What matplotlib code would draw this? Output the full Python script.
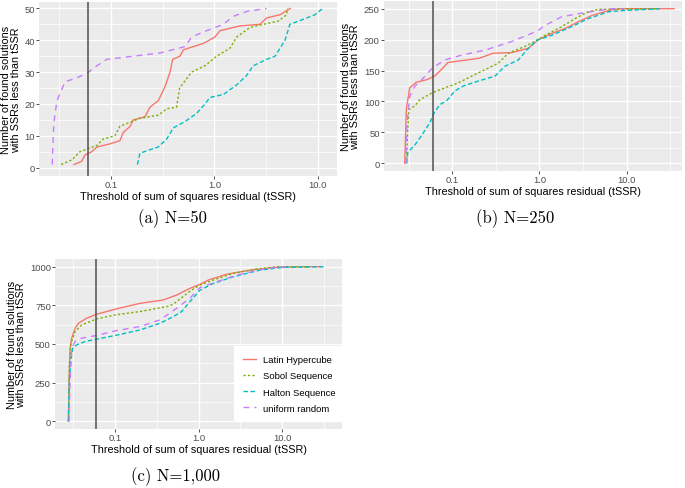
import matplotlib
matplotlib.use("Agg")
import matplotlib.pyplot as plt
from matplotlib.ticker import FixedLocator, NullFormatter

plt.rcParams['font.family'] = ['Liberation Sans', 'DejaVu Sans']

W, H = 685, 489

series_names = ['Latin Hypercube', 'Sobol Sequence', 'Halton Sequence', 'uniform random']
series_colors = ['#F8766D', '#7CAE00', '#00BFC4', '#C77CFF']
series_dashes = [None, (1.6, 1.6), (3.2, 1.8), (4.2, 3.6)]

threshold = 0.06

# N = 50
lhs50_x = [0.044, 0.052, 0.056, 0.065, 0.073, 0.098, 0.122, 0.131, 0.153, 0.164, 0.213, 0.238,
           0.286, 0.333, 0.372, 0.394, 0.464, 0.50, 0.78, 1.01, 1.13, 1.76, 2.75, 3.19, 4.3, 5.4]
lhs50_y = [1, 2, 4, 5, 6.5, 7.5, 8.5, 11, 13, 15, 16, 19, 21, 25.5, 30, 34, 35, 37, 39, 41, 43,
           44.5, 45, 47, 48, 50]
sobol50_x = [0.033, 0.042, 0.050, 0.073, 0.084, 0.109, 0.122, 0.19, 0.286, 0.345, 0.43, 0.46,
             0.60, 0.81, 1.05, 1.41, 1.64, 2.2, 2.96, 4.13, 4.98, 5.05]
sobol50_y = [1, 2.5, 5, 7, 9, 10, 13, 15.5, 16.5, 18.5, 19, 25, 30, 32, 35, 37.5, 41, 44, 45, 46,
             48, 50]
halton50_x = [0.18, 0.19, 0.23, 0.286, 0.345, 0.40, 0.52, 0.67, 0.81, 0.90, 1.22, 1.64, 2.05,
              2.37, 3.19, 3.85, 4.8, 5.36, 7.8, 9.35, 11.1]
halton50_y = [1, 4.5, 5.5, 6.5, 9, 12.5, 14.5, 17, 20, 22, 23, 26, 29, 32, 34, 35, 40, 45, 47,
              48, 50]
unif50_x = [0.027, 0.028, 0.030, 0.036, 0.045, 0.058, 0.073, 0.091, 0.164, 0.297, 0.52, 0.60,
            0.84, 1.22, 1.52, 2.04, 3.19]
unif50_y = [1, 14, 21, 27, 28, 29.5, 32, 34, 35, 36, 38, 41, 43, 45, 47.5, 49, 50]

# N = 250
lhs250_x = [0.0285, 0.0297, 0.0325, 0.0386, 0.0503, 0.0628, 0.078, 0.089, 0.145, 0.206, 0.293,
            0.48, 0.745, 0.97, 1.38, 1.96, 2.79, 3.97, 6.17, 8.03, 35]
lhs250_y = [0, 87, 122, 131, 135, 141, 154, 163, 167, 170, 178, 179, 186, 200, 210, 218, 229,
            239, 247, 250, 250]
sobol250_x = [0.0299, 0.0307, 0.0319, 0.0373, 0.0426, 0.059, 0.082, 0.117, 0.167, 0.259, 0.337,
              0.439, 0.68, 0.93, 1.16, 1.8, 2.55, 3.63, 4.73, 23]
sobol250_y = [0, 50, 87, 93, 103, 114, 122, 130, 141, 154, 162, 178, 189, 199, 207, 221, 234,
              245, 249, 250]
halton250_x = [0.0299, 0.031, 0.037, 0.0445, 0.0555, 0.0622, 0.072, 0.086, 0.107, 0.134, 0.199,
               0.309, 0.402, 0.571, 0.713, 0.93, 1.38, 2.34, 3.63, 6.17, 8.78, 24]
halton250_y = [0, 18, 29, 45, 66, 82, 95, 101, 117, 125, 133, 141, 157, 167, 183, 199, 207, 221,
               234, 245, 247, 250]
unif250_x = [0.0294, 0.0299, 0.0313, 0.0327, 0.0373, 0.0445, 0.059, 0.082, 0.128, 0.237, 0.48,
             0.81, 0.97, 1.16, 1.8, 2.79, 4.73, 6.73, 9.1]
unif250_y = [0, 50, 87, 109, 125, 135, 154, 167, 175, 183, 197, 210, 215, 223, 237, 242, 247,
             250, 250]

# N = 1000
lhs1000_x = [0.0277, 0.0282, 0.029, 0.0303, 0.0333, 0.0365, 0.0458, 0.06, 0.1, 0.199, 0.378,
             0.546, 0.787, 1.04, 1.31, 2.16, 4.11, 8.55, 16.3, 29.5]
lhs1000_y = [0, 258, 473, 538, 602, 634, 667, 692, 725, 763, 785, 817, 860, 886, 914, 951, 978,
             996, 1000, 1000]
sobol1000_x = [0.0277, 0.0284, 0.0298, 0.0333, 0.04, 0.06, 0.1, 0.199, 0.415, 0.497, 0.627,
               0.824, 1.04, 1.5, 2.6, 4.93, 8.55, 21.4]
sobol1000_y = [0, 366, 505, 581, 624, 662, 688, 710, 742, 757, 800, 849, 882, 914, 957, 985,
               1000, 1000]
halton1000_x = [0.0277, 0.0284, 0.0295, 0.0312, 0.0349, 0.0438, 0.06, 0.1, 0.199, 0.345, 0.497,
                0.627, 0.787, 1.04, 1.5, 2.6, 5.4, 10.3, 32.4]
halton1000_y = [0, 258, 387, 473, 495, 516, 531, 555, 591, 634, 677, 710, 774, 849, 892, 935,
                978, 996, 1000]
unif1000_x = [0.0282, 0.029, 0.0303, 0.0333, 0.04, 0.06, 0.1, 0.199, 0.345, 0.546, 0.787, 1.04,
              1.64, 3.12, 6.5, 10.3, 13]
unif1000_y = [0, 258, 473, 516, 538, 555, 585, 613, 656, 731, 796, 865, 903, 951, 989, 1000,
              1000]


def px_rect(x0, y0, x1, y1):
    return [x0 / W, 1 - y1 / H, (x1 - x0) / W, (y1 - y0) / H]


def make_panel(fig, rect, xlim, ylim, yticks, xs, ys):
    ax = fig.add_axes(px_rect(*rect))
    ax.set_facecolor('#EBEBEB')
    for s in ax.spines.values():
        s.set_visible(False)
    ax.set_xscale('log')
    ax.set_xlim(*xlim)
    ax.set_ylim(*ylim)
    ax.xaxis.set_major_locator(FixedLocator([0.1, 1.0, 10.0]))
    ax.set_xticklabels(['0.1', '1.0', '10.0'])
    ax.xaxis.set_minor_locator(FixedLocator([10 ** -1.5, 10 ** -0.5, 10 ** 0.5, 10 ** 1.5]))
    ax.xaxis.set_minor_formatter(NullFormatter())
    ax.set_yticks(yticks)
    step = yticks[1] - yticks[0]
    ax.yaxis.set_minor_locator(FixedLocator([t + step / 2 for t in yticks[:-1]]))
    ax.grid(True, which='major', color='white', lw=1.0)
    ax.grid(True, which='minor', color='white', lw=0.5)
    ax.set_axisbelow(True)
    ax.tick_params(which='major', length=2.0, width=0.6, color='#333333',
                   labelcolor='#4D4D4D', labelsize=6.8, pad=1.0)
    ax.tick_params(which='minor', length=0)
    for i in range(4):
        line, = ax.plot(xs[i], ys[i], color=series_colors[i], lw=1.0, label=series_names[i])
        if series_dashes[i] is not None:
            line.set_dashes(series_dashes[i])
    ax.axvline(threshold, color='#505050', lw=1.1)
    ax.set_xlabel('Threshold of sum of squares residual (tSSR)', fontsize=7.8, labelpad=1.5)
    ax.set_ylabel('Number of found solutions\nwith SSRs less than tSSR', fontsize=7.8,
                  labelpad=2.5, linespacing=0.95)
    return ax


fig = plt.figure(figsize=(W / 100, H / 100), dpi=100)

make_panel(fig, (39, 3, 337, 177), (10 ** -1.696, 10 ** 1.184), (-2.6, 52.0),
           [0, 10, 20, 30, 40, 50],
           [lhs50_x, sobol50_x, halton50_x, unif50_x],
           [lhs50_y, sobol50_y, halton50_y, unif50_y])

make_panel(fig, (384, 2, 682, 172), (10 ** -1.783, 10 ** 1.634), (-12.5, 262.5),
           [0, 50, 100, 150, 200, 250],
           [lhs250_x, sobol250_x, halton250_x, unif250_x],
           [lhs250_y, sobol250_y, halton250_y, unif250_y])

ax_c = make_panel(fig, (55, 260, 342, 430), (10 ** -1.718, 10 ** 1.715), (-50, 1050),
                  [0, 250, 500, 750, 1000],
                  [lhs1000_x, sobol1000_x, halton1000_x, unif1000_x],
                  [lhs1000_y, sobol1000_y, halton1000_y, unif1000_y])

leg = ax_c.legend(loc='lower right', bbox_to_anchor=(1.012, 0.041), fontsize=6.8,
                  frameon=True, facecolor='white', edgecolor='none', framealpha=1,
                  fancybox=False, handlelength=1.4, handletextpad=0.75, labelspacing=0.75,
                  borderpad=1.0, borderaxespad=0)

cap_font = dict(family='cmr10', fontsize=12, ha='center', va='center')
fig.text(172 / W, 1 - 219 / H, '(a) N=50', **cap_font)
fig.text(515 / W, 1 - 219 / H, '(b) N=250', **cap_font)
fig.text(175 / W, 1 - 477 / H, '(c) N=1,000', **cap_font)

fig.savefig('out.png', dpi=100)
